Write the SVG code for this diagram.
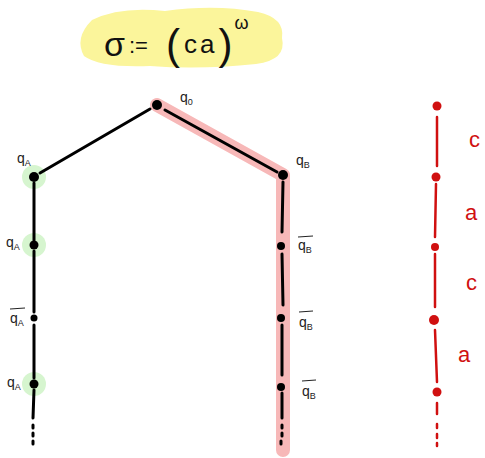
<svg xmlns="http://www.w3.org/2000/svg" width="485" height="458" viewBox="0 0 485 458">
<style>
.lbl{font-family:"Liberation Sans",sans-serif;font-size:14px;fill:#222}
.sub{font-size:9px}
.blk{stroke:#000;stroke-width:3;fill:none;stroke-linecap:round}
.red{stroke:#d01010;stroke-width:2.5;fill:none;stroke-linecap:round}
.rl{font-family:"Liberation Sans",sans-serif;font-size:22px;fill:#d01010}
.bar{stroke:#222;stroke-width:1}
</style>
<rect width="485" height="458" fill="#fff"/>
<g id="title">
<path d="M92,20 Q120,6 165,11 Q215,4 258,12 Q285,18 282,38 Q287,60 256,64 Q200,70 150,66 Q100,68 84,56 Q74,38 92,20 Z" fill="#fbf59b"/>
<text x="104" y="56" font-family="Liberation Sans,sans-serif" font-size="34" fill="#111">σ<tspan font-size="22" dx="4" dy="-3">:=</tspan><tspan dx="18" dy="6" font-size="42">(</tspan><tspan font-size="26" dx="4" dy="-6" letter-spacing="3">ca</tspan><tspan font-size="42" dx="1" dy="6">)</tspan><tspan font-size="18" dx="2" dy="-30">ω</tspan></text>
</g>
<g id="highlight">
<polyline points="157,105 283,175 283,450" fill="none" stroke="#f7b8b8" stroke-width="14" stroke-linejoin="round" stroke-linecap="round"/>
</g>
<g id="greens" fill="#d6f5cf">
<circle cx="34" cy="177" r="12"/>
<circle cx="34" cy="245" r="12"/>
<circle cx="34" cy="384" r="12"/>
</g>
<g id="connectors">
<path class="blk" d="M150,109 L40,173"/>
<path class="blk" d="M165,110 L277,172"/>
<path class="blk" d="M34,183 L34,240"/>
<path class="blk" d="M34,251 L34,312"/>
<path class="blk" d="M34,325 L34,378"/>
<path class="blk" d="M34,390 L33,418"/>
<path class="blk" d="M33,425 L33,428 M33,433 L33,436 M33,441 L33,444"/>
<path class="blk" d="M283,182 L282,232"/>
<path class="blk" d="M282,254 L283,305"/>
<path class="blk" d="M282,325 L282,375"/>
<path class="blk" d="M282,393 L282,418"/>
<path class="blk" d="M282,425 L282,428 M282,433 L282,436 M281,441 L281,444"/>
<path class="red" d="M437,117 L437,166"/>
<path class="red" d="M436,184 L435,237"/>
<path class="red" d="M435,254 L435,307"/>
<path class="red" d="M435,330 L437,382"/>
<path class="red" d="M437,403 L437,414 M437,424 L437,428 M437,434 L437,438 M437,443 L437,446"/>
</g>
<g id="n_q0"><circle cx="157" cy="105" r="5"/><text class="lbl" x="180" y="102">q<tspan class="sub" dy="3">0</tspan></text></g>
<g id="n_qA1"><circle cx="34" cy="177" r="5"/><text class="lbl" x="17" y="163">q<tspan class="sub" dy="3">A</tspan></text></g>
<g id="n_qA2"><circle cx="34" cy="245" r="4.5"/><text class="lbl" x="6" y="247">q<tspan class="sub" dy="3">A</tspan></text></g>
<g id="n_qAb"><circle cx="34" cy="318" r="3.5"/><text class="lbl" x="10" y="323">q<tspan class="sub" dy="3">A</tspan></text><line class="bar" x1="10" y1="309" x2="25" y2="308"/></g>
<g id="n_qA3"><circle cx="34" cy="384" r="4.5"/><text class="lbl" x="7" y="387">q<tspan class="sub" dy="3">A</tspan></text></g>
<g id="n_qB"><circle cx="283" cy="175" r="5"/><text class="lbl" x="296" y="165">q<tspan class="sub" dy="3">B</tspan></text></g>
<g id="n_qBb1"><circle cx="281" cy="246" r="4"/><text class="lbl" x="298" y="250">q<tspan class="sub" dy="3">B</tspan></text><line class="bar" x1="298" y1="237" x2="313" y2="236"/></g>
<g id="n_qBb2"><circle cx="281" cy="318" r="4"/><text class="lbl" x="299" y="327">q<tspan class="sub" dy="3">B</tspan></text><line class="bar" x1="299" y1="312" x2="313" y2="311"/></g>
<g id="n_qBb3"><circle cx="281" cy="387" r="4"/><text class="lbl" x="302" y="396">q<tspan class="sub" dy="3">B</tspan></text><line class="bar" x1="302" y1="381" x2="316" y2="380"/></g>
<g id="red_chain" fill="#d01010">
<circle cx="437" cy="106" r="4.5"/>
<circle cx="436" cy="177" r="4.5"/>
<circle cx="435" cy="247" r="4"/>
<circle cx="434" cy="320" r="5"/>
<circle cx="437" cy="392" r="4.5"/>
<text class="rl" x="469" y="147">c</text>
<text class="rl" x="465" y="220">a</text>
<text class="rl" x="466" y="290">c</text>
<text class="rl" x="458" y="362" font-size="26">a</text>
</g>
</svg>
